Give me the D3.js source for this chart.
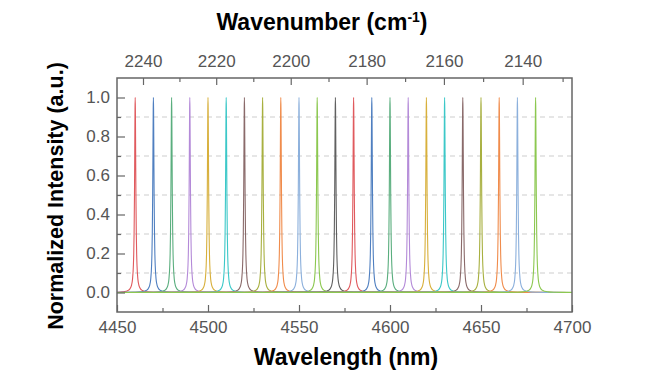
<!DOCTYPE html>
<html><head><meta charset="utf-8">
<script src="https://cdn.jsdelivr.net/npm/d3@7"></script>
<style>body{margin:0;background:#fff}svg{display:block}</style>
</head><body><svg id="c" width="650" height="390"></svg>
<script>
// Peak centre wavelengths (nm)
const peakCenters = [4460,4470,4480,4490,4500,4510,4520,4530,4540,4550,4560,4570,4580,4590,4600,4610,4620,4630,4640,4650,4660,4670,4680];
const peakHeights = [1,1,1,1,1,1,1,1,1,1,1,1,1,1,1,1,1,1,1,1,1,1,1];
// Line profile: offset from centre (nm) and normalized intensity
const profileOffset = [-300,-20,-10,-7,-5,-4,-3,-2,-1.5,-1,-0.8,-0.6,-0.4,-0.3,-0.2,-0.1,0,0.1,0.2,0.3,0.4,0.6,0.8,1,1.5,2,3,4,5,7,10,20,300];
const profileValue  = [0,0.0004,0.0016,0.0033,0.0064,0.0099,0.0175,0.038,0.066,0.138,0.2,0.308,0.5,0.64,0.8,0.941,1,0.941,0.8,0.64,0.5,0.308,0.2,0.138,0.066,0.038,0.0175,0.0099,0.0064,0.0033,0.0016,0.0004,0];
const colors = ["#e05a5e","#4f7fc0","#5aae7e","#b48ad8","#d8b03c","#3cc8c8","#8a6a6a","#a8b040","#f08c4c","#8cb0dc","#8cc850","#606060"];
const xTicks = [4450,4500,4550,4600,4650,4700];
const xMinor = [4475,4525,4575,4625,4675];
const yTicks = [0,0.2,0.4,0.6,0.8,1.0];
const yMinor = [0.1,0.3,0.5,0.7,0.9];
const wnTicks = [2240,2220,2200,2180,2160,2140];
const wnMinor = [2230,2210,2190,2170,2150,2130];

const svg = d3.select("#c");
const L=117,R=572,T=78,B=312;
const x = d3.scaleLinear().domain([4450,4700]).range([L,R]);
const y = d3.scaleLinear().domain([-0.1,1.1]).range([B,T]);

// grid
svg.append("g").selectAll("line").data(yMinor).join("line")
  .attr("x1",L).attr("x2",R).attr("y1",d=>y(d)).attr("y2",d=>y(d))
  .attr("stroke","#cdcdcd").attr("stroke-width",1).attr("stroke-dasharray","5,4");

// clip
svg.append("clipPath").attr("id","clip").append("rect").attr("x",L).attr("y",T).attr("width",R-L).attr("height",B-T);

const line = d3.line().x(d=>x(d[0])).y(d=>y(d[1])).curve(d3.curveMonotoneX);
const series = peakCenters.map((c,i)=>profileOffset.map((o,j)=>[c+o, peakHeights[i]*profileValue[j]]));
svg.append("g").attr("clip-path","url(#clip)").selectAll("path").data(series).join("path")
  .attr("d",line).attr("fill","none")
  .attr("stroke",(d,i)=>colors[i%colors.length]).attr("stroke-width",1.1);

const font = "'Liberation Sans', Arial, sans-serif";
function styleAxis(g){
  g.select(".domain").remove();
  g.selectAll(".tick line").attr("stroke","#666").attr("stroke-width",1.2);
  g.selectAll("text").attr("fill","#555").style("font-family",font).style("font-size","17px");
}
// bottom axis
svg.append("g").attr("transform",`translate(0,${B})`)
  .call(d3.axisBottom(x).tickValues(xTicks).tickSize(-7).tickPadding(9).tickFormat(d3.format("d"))).call(styleAxis);
svg.append("g").attr("transform",`translate(0,${B})`)
  .call(d3.axisBottom(x).tickValues(xMinor).tickSize(-4).tickFormat("")).call(styleAxis);
// left axis
svg.append("g").attr("transform",`translate(${L},0)`)
  .call(d3.axisLeft(y).tickValues(yTicks).tickSize(-8).tickPadding(7).tickFormat(d3.format(".1f"))).call(styleAxis);
svg.append("g").attr("transform",`translate(${L},0)`)
  .call(d3.axisLeft(y).tickValues(yMinor).tickSize(-4).tickFormat("")).call(styleAxis);
// top axis (wavenumber = 1e7 / wavelength)
const topAxis = d3.axisTop(x).tickValues(wnTicks.map(w=>1e7/w)).tickSize(-7).tickPadding(11)
  .tickFormat((d,i)=>wnTicks[i]);
svg.append("g").attr("transform",`translate(0,${T})`).call(topAxis).call(styleAxis);
svg.append("g").attr("transform",`translate(0,${T})`)
  .call(d3.axisTop(x).tickValues(wnMinor.map(w=>1e7/w)).tickSize(-4).tickFormat("")).call(styleAxis);

// frame
svg.append("rect").attr("x",L).attr("y",T).attr("width",R-L).attr("height",B-T)
  .attr("fill","none").attr("stroke","#666").attr("stroke-width",1.5);

// titles
svg.append("text").attr("x",346).attr("y",365).attr("text-anchor","middle")
  .style("font-family",font).style("font-size","23px").style("font-weight","bold").text("Wavelength (nm)");
const tt = svg.append("text").attr("x",322).attr("y",30).attr("text-anchor","middle")
  .style("font-family",font).style("font-size","23px").style("font-weight","bold");
tt.append("tspan").text("Wavenumber (cm");
tt.append("tspan").attr("dy",-8).style("font-size","14px").text("-1");
tt.append("tspan").attr("dy",8).text(")");
svg.append("text").attr("transform","translate(63,196) rotate(-90)").attr("text-anchor","middle")
  .style("font-family",font).style("font-size","21.5px").style("font-weight","bold").text("Normalized Intensity (a.u.)");
</script></body></html>
